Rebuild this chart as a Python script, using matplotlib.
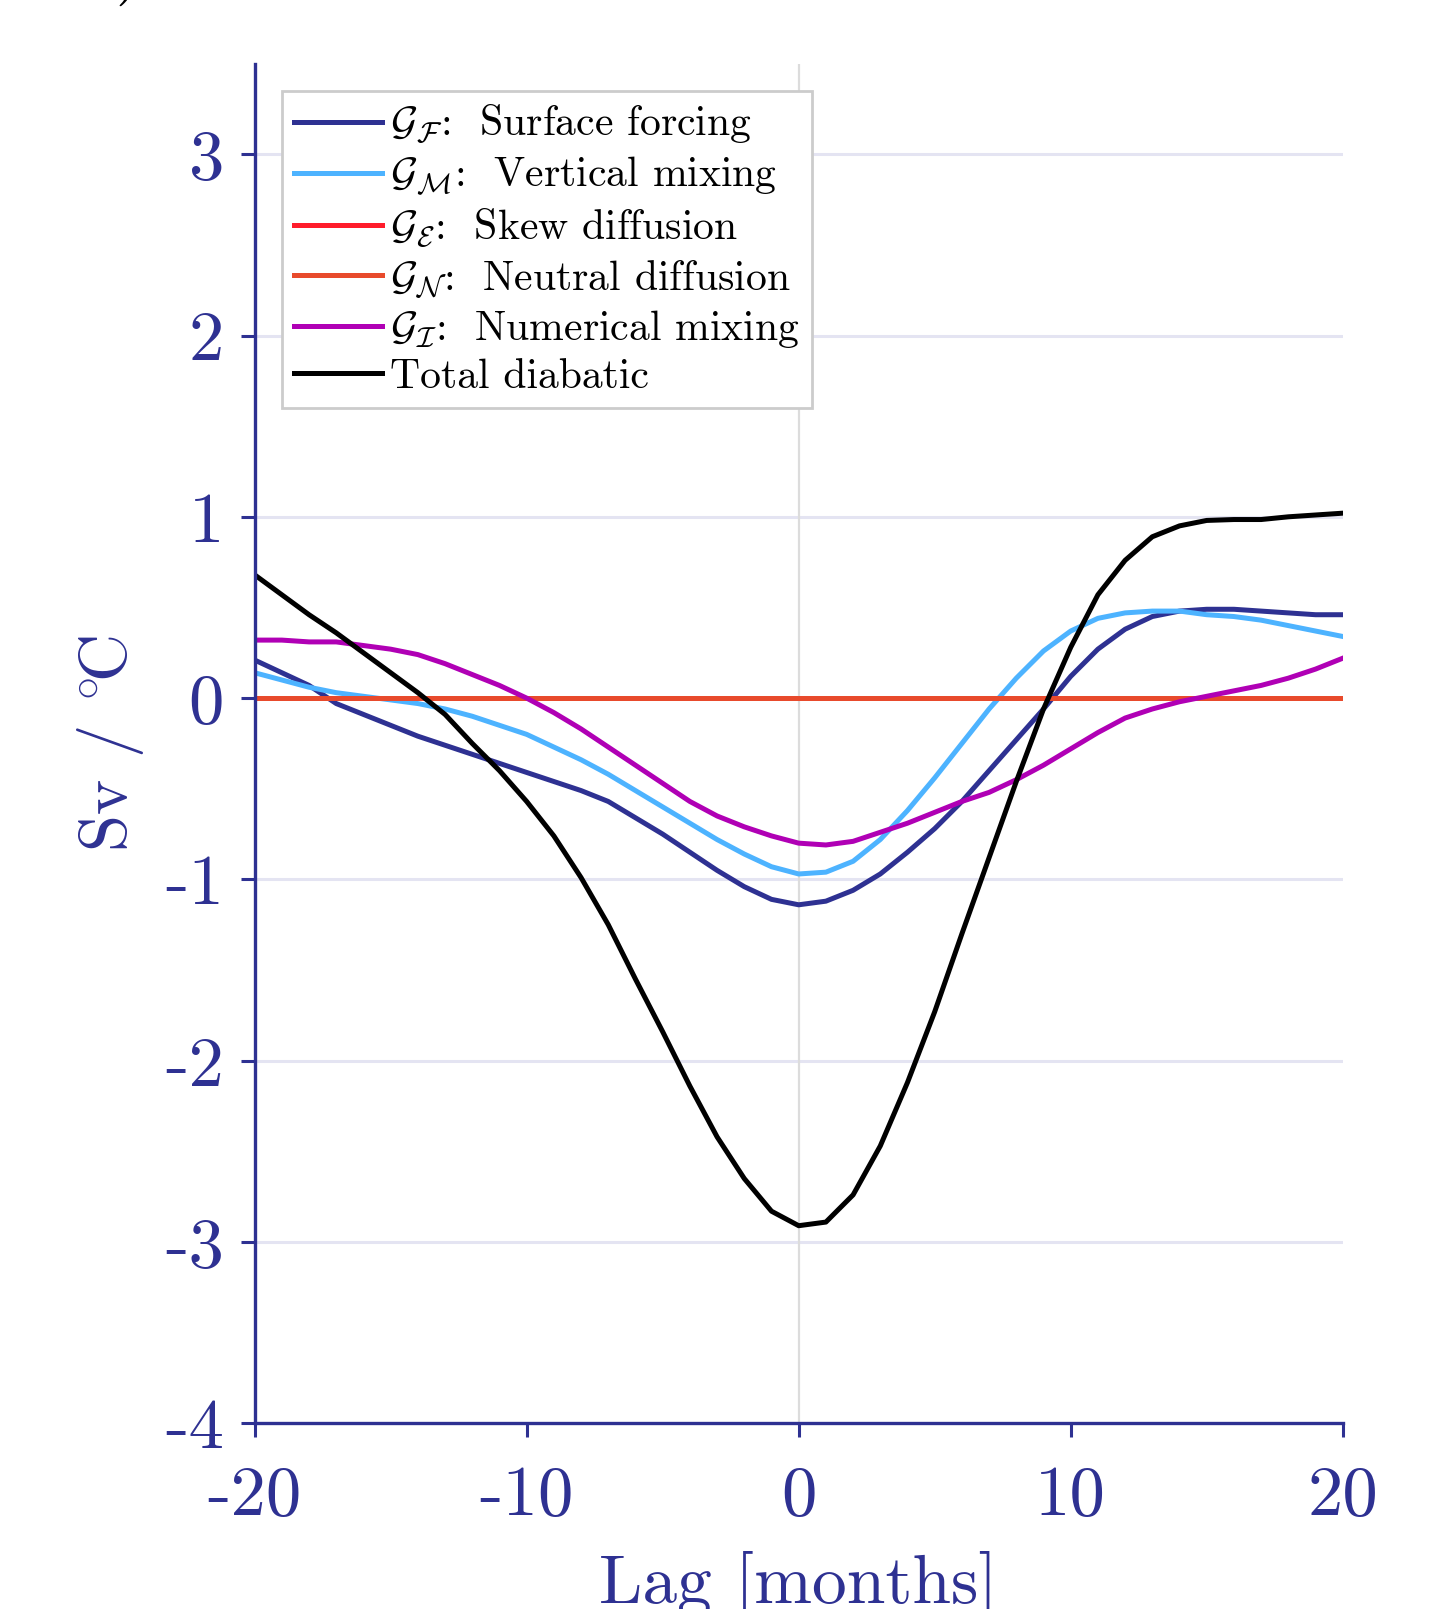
import numpy as np
import matplotlib
matplotlib.use('Agg')
from matplotlib import pyplot as plt

plt.rcParams['font.family'] = 'cmr10'
plt.rcParams['mathtext.fontset'] = 'cm'
plt.rcParams['axes.unicode_minus'] = False

# lag in months
lag = np.arange(-20, 21)

surface_forcing = [0.21, 0.14, 0.07, -0.03, -0.09, -0.15, -0.21, -0.26, -0.31, -0.36,
                   -0.41, -0.46, -0.51, -0.57, -0.66, -0.75, -0.85, -0.95, -1.04, -1.11,
                   -1.14, -1.12, -1.06, -0.97, -0.85, -0.72, -0.57, -0.40, -0.23, -0.06,
                   0.12, 0.27, 0.38, 0.45, 0.48, 0.49, 0.49, 0.48, 0.47, 0.46, 0.46]
vertical_mixing = [0.14, 0.10, 0.06, 0.03, 0.01, -0.01, -0.03, -0.06, -0.10, -0.15,
                   -0.20, -0.27, -0.34, -0.42, -0.51, -0.60, -0.69, -0.78, -0.86, -0.93,
                   -0.97, -0.96, -0.90, -0.78, -0.62, -0.44, -0.25, -0.06, 0.11, 0.26,
                   0.37, 0.44, 0.47, 0.48, 0.48, 0.46, 0.45, 0.43, 0.40, 0.37, 0.34]
skew_diffusion = [0.0] * 41
neutral_diffusion = [0.0] * 41
numerical_mixing = [0.32, 0.32, 0.31, 0.31, 0.29, 0.27, 0.24, 0.19, 0.13, 0.07,
                    0.00, -0.08, -0.17, -0.27, -0.37, -0.47, -0.57, -0.65, -0.71, -0.76,
                    -0.80, -0.81, -0.79, -0.74, -0.69, -0.63, -0.57, -0.52, -0.45, -0.37,
                    -0.28, -0.19, -0.11, -0.06, -0.02, 0.01, 0.04, 0.07, 0.11, 0.16, 0.22]
total_diabatic = [0.68, 0.57, 0.46, 0.36, 0.25, 0.14, 0.03, -0.09, -0.25, -0.40,
                  -0.57, -0.76, -0.99, -1.25, -1.55, -1.84, -2.14, -2.42, -2.65, -2.83,
                  -2.91, -2.89, -2.74, -2.47, -2.12, -1.73, -1.30, -0.88, -0.46, -0.06,
                  0.28, 0.57, 0.76, 0.89, 0.95, 0.98, 0.985, 0.985, 1.0, 1.01, 1.02]

labels = [r'$\mathcal{G}_\mathcal{F}$:  Surface forcing',
          r'$\mathcal{G}_\mathcal{M}$:  Vertical mixing',
          r'$\mathcal{G}_\mathcal{E}$:  Skew diffusion',
          r'$\mathcal{G}_\mathcal{N}$:  Neutral diffusion',
          r'$\mathcal{G}_\mathcal{I}$:  Numerical mixing',
          'Total diabatic']
colors = ['#2e3192', '#4db3ff', '#ff1c2b', '#e84a2c', '#b000b5', '#000000']
series = [surface_forcing, vertical_mixing, skew_diffusion, neutral_diffusion,
          numerical_mixing, total_diabatic]

xticks = [-20, -10, 0, 10, 20]
xticklabels = ['-20', '-10', '0', '10', '20']
yticks = [-4, -3, -2, -1, 0, 1, 2, 3]
yticklabels = ['-4', '-3', '-2', '-1', '0', '1', '2', '3']

axcol = '#2e3192'

fig = plt.figure(figsize=(14.33, 16.09), dpi=100)
ax = fig.add_axes([0.1777, 0.1154, 0.937 - 0.1777, 0.9605 - 0.1154])

for yv in [-3, -2, -1, 1, 2, 3]:
    ax.axhline(yv, color='#e4e4f2', lw=2.2, zorder=0)
ax.axvline(0, color='#dcdcdc', lw=1.6, zorder=0)

for vals, c, lab in zip(series, colors, labels):
    ax.plot(lag, vals, color=c, lw=3.6, label=lab)

ax.set_xlim(-20, 20)
ax.set_ylim(-4, 3.5)
ax.set_xticks(xticks)
ax.set_xticklabels(xticklabels)
ax.set_yticks(yticks)
ax.set_yticklabels(yticklabels)

for s in ['top', 'right']:
    ax.spines[s].set_visible(False)
for s in ['left', 'bottom']:
    ax.spines[s].set_color(axcol)
    ax.spines[s].set_linewidth(2.4)
ax.tick_params(axis='both', colors=axcol, labelsize=51, width=2.2, length=10, direction='out')
ax.tick_params(axis='x', pad=20)
ax.tick_params(axis='y', pad=12)

ax.set_xlabel('Lag [months]', fontsize=50, color=axcol, labelpad=16)
ax.set_ylabel(r'Sv / $^{\circ}\!\mathrm{C}$', fontsize=48, color=axcol, labelpad=14)

leg = ax.legend(loc='upper left', fontsize=30, frameon=True, fancybox=False,
                framealpha=1, edgecolor='#cccccc', handlelength=2.1, handletextpad=0.2,
                borderaxespad=0.65, labelspacing=0.2, borderpad=0.3)
leg.get_frame().set_linewidth(2)

fig.text(0.057, 1.007, 'a)', fontsize=50, va='baseline', ha='left')

fig.savefig('out.png', dpi=100)
